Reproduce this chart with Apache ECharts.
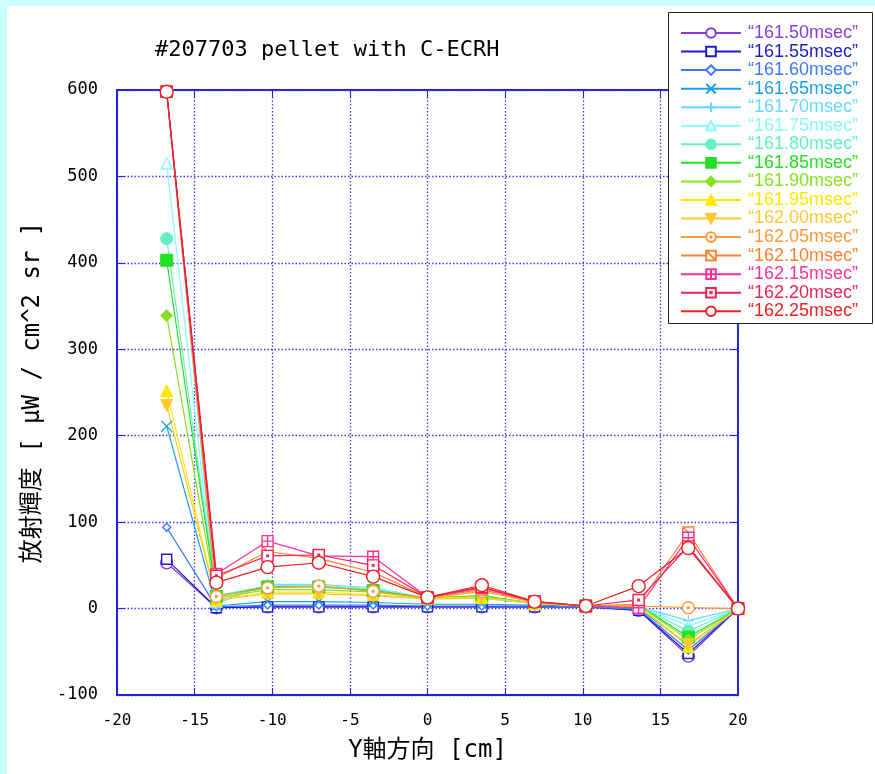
<!DOCTYPE html>
<html>
<head>
<meta charset="utf-8">
<script src="https://cdn.jsdelivr.net/npm/echarts@6/dist/echarts.min.js"></script>
<style>
  html, body { margin: 0; padding: 0; background: #ffffff; }
  #chart { width: 875px; height: 774px; }
</style>
</head>
<body>
<div id="chart"></div>
<script>
// Chord positions along the Y axis [cm]
const positions = [-16.8, -13.6, -10.3, -7.0, -3.5, 0, 3.5, 6.9, 10.2, 13.6, 16.8, 20.0];

// Time slices shown in the legend
const timeLabels = ['161.50', '161.55', '161.60', '161.65', '161.70', '161.75', '161.80', '161.85',
                    '161.90', '161.95', '162.00', '162.05', '162.10', '162.15', '162.20', '162.25'];

// Radiance profiles [μW / cm^2 sr], one per time slice
const t16150 = [53, 1, 2, 2, 2, 2, 2, 2, 2, -2, -55, 0];
const t16155 = [57, 1, 2, 2, 2, 2, 2, 2, 2, -2, -52, 0];
const t16160 = [94, 2, 4, 4, 4, 3, 3, 3, 2, -1, -48, 0];
const t16165 = [211, 3, 8, 8, 7, 5, 5, 4, 3, 0, -42, 0];
const t16170 = [598, 6, 28, 28, 24, 12, 12, 6, 3, 2, -14, 0];
const t16175 = [515, 8, 27, 27, 23, 12, 13, 6, 3, 3, -20, 0];
const t16180 = [428, 15, 26, 26, 22, 12, 14, 6, 3, 3, -26, 0];
const t16185 = [403, 14, 25, 25, 21, 12, 15, 6, 3, 4, -33, 0];
const t16190 = [339, 12, 22, 22, 19, 12, 14, 6, 3, 4, -36, 0];
const t16195 = [252, 10, 19, 19, 16, 12, 13, 6, 3, 3, -44, 0];
const t16200 = [235, 10, 17, 17, 15, 11, 12, 6, 3, 3, -42, 0];
const t16205 = [598, 14, 24, 26, 20, 12, 20, 7, 3, 3, 1, 0];
const t16210 = [598, 35, 66, 58, 42, 13, 22, 8, 3, 5, 88, 0];
const t16215 = [598, 40, 78, 61, 60, 13, 24, 8, 3, 1, 82, 0];
const t16220 = [598, 38, 61, 62, 50, 13, 25, 8, 3, 10, 72, 0];
const t16225 = [598, 30, 48, 53, 37, 13, 27, 8, 3, 26, 70, 0];

const profiles = [t16150, t16155, t16160, t16165, t16170, t16175, t16180, t16185,
                  t16190, t16195, t16200, t16205, t16210, t16215, t16220, t16225];

// Axis ticks
const xTicks = [-20, -15, -10, -5, 0, 5, 10, 15, 20];
const yTicks = [-100, 0, 100, 200, 300, 400, 500, 600];

const colors = ['#8a3ae0', '#1c1cc8', '#3a78ff', '#1aa0e8', '#66d8ff', '#88f8ff', '#66f0c0', '#22e022',
                '#88e022', '#ffe600', '#ffc830', '#ff9933', '#ff8030', '#ff2f95', '#ee2255', '#ee2020'];

// marker kinds: [symbol, size, filled, rotate]
const P = 'path://';
const markers = [
  ['circle', 12, false, 0],
  [P + 'M0,0L10,0L10,10L0,10Z', 10, false, 0],
  ['diamond', 8, false, 0],
  [P + 'M0,0L10,10M10,0L0,10', 11, 'stroke', 0],
  [P + 'M5,0L5,10M0,5L10,5', 11, 'stroke', 0],
  ['triangle', 11, false, 0],
  ['circle', 12, true, 0],
  ['rect', 12, true, 0],
  ['diamond', 12, true, 0],
  ['triangle', 12, true, 0],
  ['triangle', 12, true, 180],
  [P + 'M10,5A5,5,0,1,1,0,5A5,5,0,1,1,10,5ZM5.8,5A0.8,0.8,0,1,1,4.2,5A0.8,0.8,0,1,1,5.8,5Z', 12, false, 0],
  [P + 'M0,0L10,0L10,10L0,10ZM0,0L10,10', 11, false, 0],
  [P + 'M0,0L10,0L10,10L0,10ZM5,0L5,10M0,5L10,5', 11, false, 0],
  [P + 'M0,0L10,0L10,10L0,10ZM4.3,4.3L5.7,4.3L5.7,5.7L4.3,5.7Z', 11, false, 0],
  ['circle', 13, false, 0]
];

const series = profiles.map((vals, i) => {
  const c = colors[i];
  const m = markers[i];
  let itemStyle;
  if (m[2] === true) itemStyle = { color: c, borderColor: c, borderWidth: 1 };
  else if (m[2] === 'stroke') itemStyle = { color: c, borderColor: c, borderWidth: 1.2 };
  else itemStyle = { color: '#ffffff', borderColor: c, borderWidth: 1.4 };
  return {
    name: '\u201c' + timeLabels[i] + 'msec\u201d',
    type: 'line',
    data: positions.map((x, k) => [x, vals[k]]),
    symbol: m[0],
    symbolSize: m[1],
    symbolRotate: m[3],
    showAllSymbol: true,
    lineStyle: { color: c, width: 1.2 },
    itemStyle: itemStyle,
    emphasis: { disabled: true },
    animation: false
  };
});

const axisBlue = '#2020e0';
const gridBlue = '#3a3aff';
const mono = 'DejaVu Sans Mono';
const nameFont = 'DejaVu Sans Mono, Noto Sans CJK JP';

const chart = echarts.init(document.getElementById('chart'), null, { renderer: 'canvas' });
chart.setOption({
  backgroundColor: '#ffffff',
  animation: false,
  title: {
    text: '#207703 pellet with C-ECRH',
    left: 150, top: 34,
    textStyle: { fontFamily: mono, fontSize: 22, fontWeight: 'normal', color: '#000' }
  },
  graphic: [
    { type: 'rect', shape: { x: 0, y: 0, width: 875, height: 6 }, style: { fill: '#ccffff' }, silent: true },
    { type: 'rect', shape: { x: 0, y: 0, width: 7, height: 774 }, style: { fill: '#ccffff' }, silent: true },
    { type: 'rect', shape: { x: 668.5, y: 12.5, width: 204, height: 311 },
      style: { fill: '#ffffff', stroke: '#222', lineWidth: 1 }, z: 5, silent: true }
  ],
  legend: {
    orient: 'vertical',
    left: 680, top: 24,
    padding: 0,
    itemWidth: 60, itemHeight: 12, itemGap: 0.55,
    selectedMode: false,
    z: 10,
    data: series.map((s, i) => ({ name: s.name, textStyle: { color: colors[i] } })),
    textStyle: { fontFamily: 'Liberation Sans', fontSize: 18, lineHeight: 18, padding: [0, 0, 0, 2] }
  },
  grid: {
    left: 117, right: 137, top: 90, bottom: 79,
    show: true, borderColor: axisBlue, borderWidth: 2, backgroundColor: 'transparent'
  },
  xAxis: [{
    type: 'value', min: -20, max: 20, interval: 5,
    name: 'Y軸方向 [cm]', nameLocation: 'middle', nameGap: 44,
    nameTextStyle: { fontFamily: nameFont, fontSize: 24, color: '#000' },
    axisLine: { show: true, onZero: false, lineStyle: { color: axisBlue, width: 2 } },
    axisTick: { show: true, inside: true, length: 7, lineStyle: { color: axisBlue } },
    axisLabel: { fontFamily: mono, fontSize: 16, color: '#000', margin: 18,
                 formatter: v => xTicks.includes(v) ? String(v) : '' },
    splitLine: { show: true, lineStyle: { color: gridBlue, type: [1.5, 2], width: 1.3 } }
  }, {
    type: 'value', min: -20, max: 20, interval: 5, position: 'top',
    axisLine: { show: false, onZero: false }, axisLabel: { show: false }, splitLine: { show: false },
    axisTick: { show: true, inside: true, length: 7, lineStyle: { color: axisBlue } }
  }],
  yAxis: [{
    type: 'value', min: -100, max: 600, interval: 100,
    name: '放射輝度 [ μW / cm^2 sr ]', nameLocation: 'middle', nameGap: 72, nameRotate: 90,
    nameTextStyle: { fontFamily: nameFont, fontSize: 24, color: '#000' },
    axisLine: { show: true, onZero: false, lineStyle: { color: axisBlue, width: 2 } },
    axisTick: { show: true, inside: true, length: 8, lineStyle: { color: axisBlue } },
    axisLabel: { fontFamily: mono, fontSize: 17, color: '#000', margin: 19,
                 formatter: v => yTicks.includes(v) ? String(v) : '' },
    splitLine: { show: true, lineStyle: { color: gridBlue, type: [1.5, 2], width: 1.3 } }
  }, {
    type: 'value', min: -100, max: 600, interval: 100, position: 'right',
    axisLine: { show: false, onZero: false }, axisLabel: { show: false }, splitLine: { show: false },
    axisTick: { show: true, inside: true, length: 8, lineStyle: { color: axisBlue } }
  }],
  series: series
});
</script>
</body>
</html>
